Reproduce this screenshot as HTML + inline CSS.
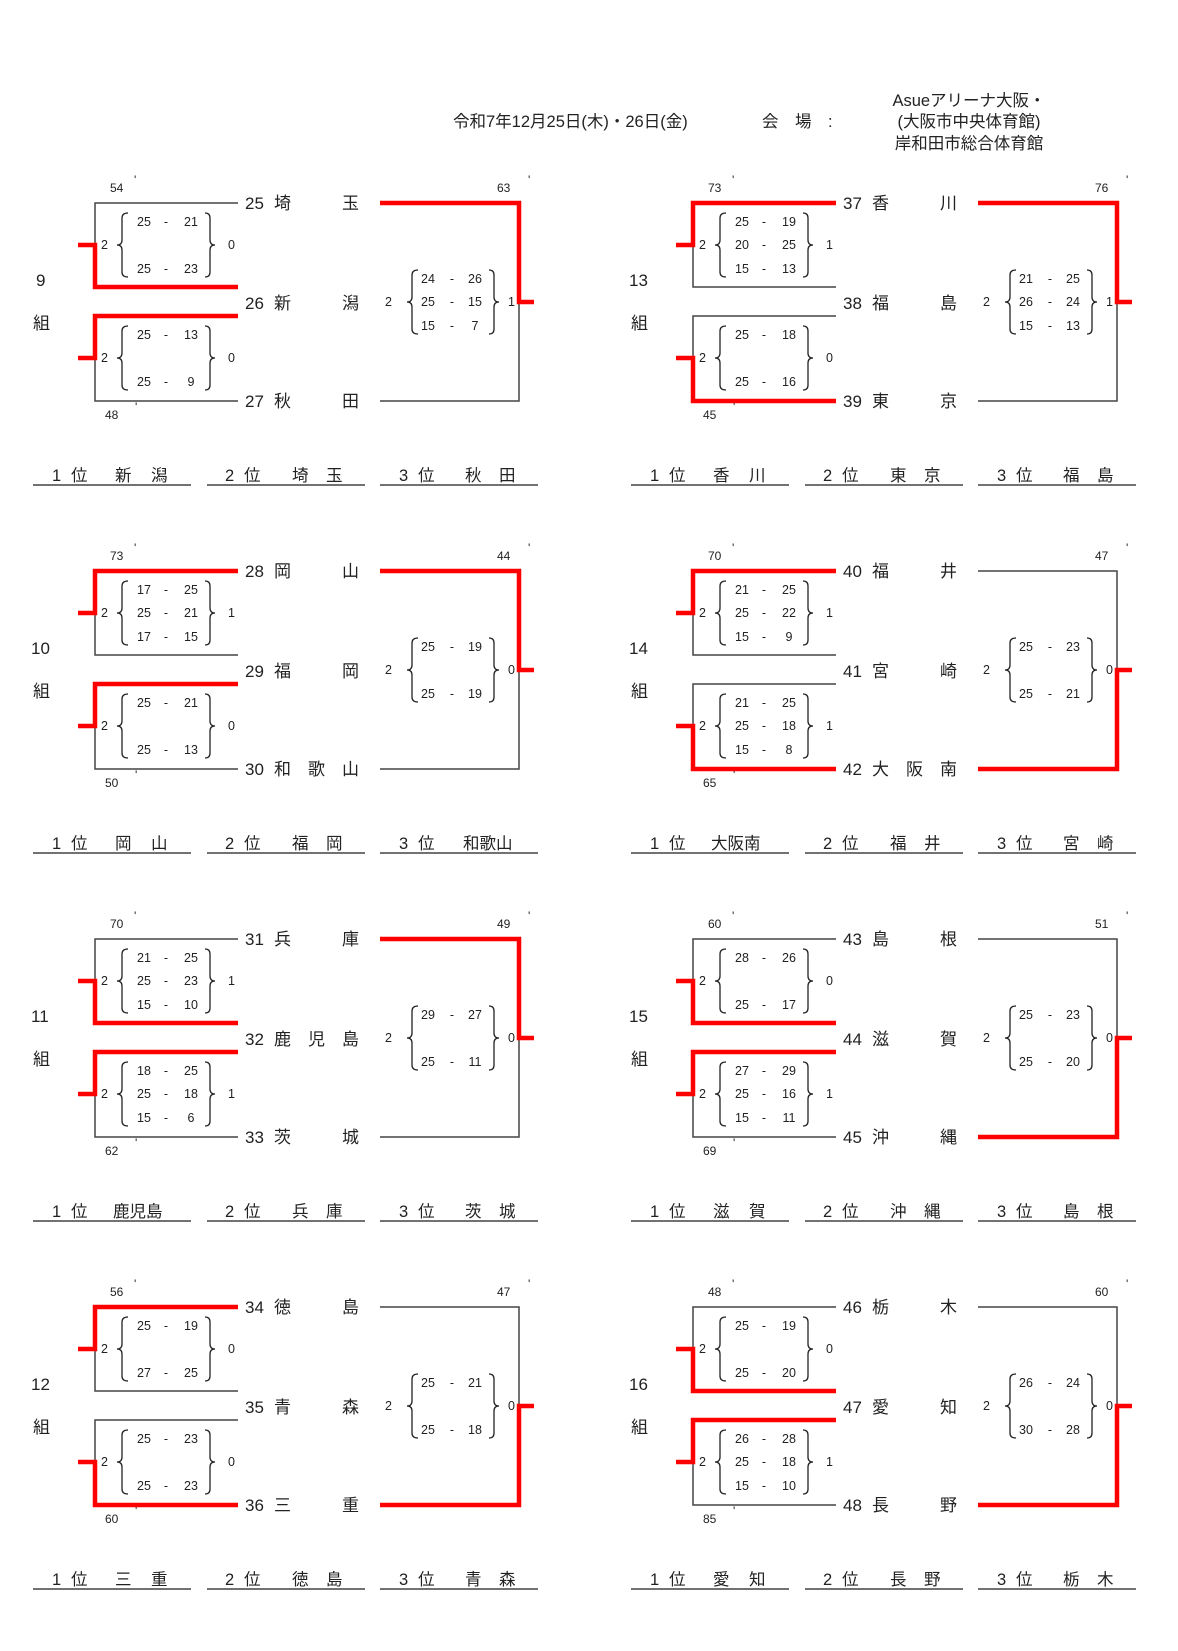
<!DOCTYPE html>
<html><head><meta charset="utf-8"><style>
html,body{margin:0;padding:0;background:#fff}
svg{display:block}
text{font-family:"Liberation Sans","Noto Sans CJK JP",sans-serif;fill:#222}
.k{stroke:#444;stroke-width:1.5;fill:none}
.r{stroke:#f00;stroke-width:4.5;fill:none}
.n{font-size:17px}
.s{font-size:12.5px}
.m{font-size:12px}
.h{font-size:16.5px}
.s2 text{text-anchor:middle}
</style></head><body>
<svg width="1178" height="1651" viewBox="0 0 1178 1651" xmlns="http://www.w3.org/2000/svg">
<defs>
<path id="lb" d="M6,-32 Q0,-32 0,-27 L0,-5 Q0,0 -5,0 Q0,0 0,5 L0,27 Q0,32 6,32" fill="none" stroke="#222" stroke-width="1.3"/>
<path id="rb" d="M-5,-32 Q0,-32 0,-27 L0,-5 Q0,0 5,0 Q0,0 0,5 L0,27 Q0,32 -5,32" fill="none" stroke="#222" stroke-width="1.3"/>
</defs>
<text class="h" x="453" y="127">令和7年12月25日(木)・26日(金)</text>
<text class="h" x="762" y="127">会　場　:</text>
<text class="h" x="969" y="106" text-anchor="middle">Asueアリーナ大阪・</text>
<text class="h" x="969" y="127" text-anchor="middle">(大阪市中央体育館)</text>
<text class="h" x="969" y="149" text-anchor="middle">岸和田市総合体育館</text>

<!-- G9 -->
<g transform="translate(0,0)">
<text class="n" x="36" y="286">9</text><text class="n" x="33" y="329">組</text>
<text class="m" x="110" y="192">54</text><text class="m" x="134" y="184">'</text>
<text class="m" x="105" y="419">48</text><text class="m" x="135" y="411">'</text>
<text class="m" x="497" y="192">63</text><text class="m" x="528" y="184">'</text>
<path class="k" d="M238,203H95V287H238M238,316H95V401H238M380,203H519V401H380"/>
<polyline class="r" points="78,245 95,245 95,287 238,287"/>
<polyline class="r" points="78,358 95,358 95,316 238,316"/>
<polyline class="r" points="380,203 519,203 519,302 534,302"/>
<text class="n" x="245" y="209">25</text><text class="n" x="274" y="209">埼</text><text class="n" x="342" y="209">玉</text>
<text class="n" x="245" y="309">26</text><text class="n" x="274" y="309">新</text><text class="n" x="342" y="309">潟</text>
<text class="n" x="245" y="407">27</text><text class="n" x="274" y="407">秋</text><text class="n" x="342" y="407">田</text>
<use href="#lb" x="122" y="245"/><use href="#rb" x="210" y="245"/><use href="#lb" x="122" y="358"/><use href="#rb" x="210" y="358"/><use href="#lb" x="412" y="302"/><use href="#rb" x="494" y="302"/>
<text class="s" x="101" y="249">2</text><text class="s" x="228" y="249">0</text>
<text class="s" x="101" y="362">2</text><text class="s" x="228" y="362">0</text>
<text class="s" x="385" y="306">2</text><text class="s" x="508" y="306">1</text>
<g class="s s2">
<text x="144" y="226">25</text><text x="166" y="226">-</text><text x="191" y="226">21</text>
<text x="144" y="273">25</text><text x="166" y="273">-</text><text x="191" y="273">23</text>
<text x="144" y="339">25</text><text x="166" y="339">-</text><text x="191" y="339">13</text>
<text x="144" y="386">25</text><text x="166" y="386">-</text><text x="191" y="386">9</text>
<text x="428" y="283">24</text><text x="452" y="283">-</text><text x="475" y="283">26</text>
<text x="428" y="306">25</text><text x="452" y="306">-</text><text x="475" y="306">15</text>
<text x="428" y="330">15</text><text x="452" y="330">-</text><text x="475" y="330">7</text>
</g>
<path class="k" d="M33,485H191M207,485H365M380,485H538"/>
<text class="h" x="52" y="481">1</text><text class="h" x="71" y="481">位</text><text class="h" x="115" y="481">新</text><text class="h" x="151" y="481">潟</text>
<text class="h" x="225" y="481">2</text><text class="h" x="244" y="481">位</text><text class="h" x="292" y="481">埼</text><text class="h" x="326" y="481">玉</text>
<text class="h" x="399" y="481">3</text><text class="h" x="418" y="481">位</text><text class="h" x="465" y="481">秋</text><text class="h" x="499" y="481">田</text>
</g>

<!-- G10 -->
<g transform="translate(0,368)">
<text class="n" x="31" y="286">10</text><text class="n" x="33" y="329">組</text>
<text class="m" x="110" y="192">73</text><text class="m" x="134" y="184">'</text>
<text class="m" x="105" y="419">50</text><text class="m" x="135" y="411">'</text>
<text class="m" x="497" y="192">44</text><text class="m" x="528" y="184">'</text>
<path class="k" d="M238,203H95V287H238M238,316H95V401H238M380,203H519V401H380"/>
<polyline class="r" points="78,245 95,245 95,203 238,203"/>
<polyline class="r" points="78,358 95,358 95,316 238,316"/>
<polyline class="r" points="380,203 519,203 519,302 534,302"/>
<text class="n" x="245" y="209">28</text><text class="n" x="274" y="209">岡</text><text class="n" x="342" y="209">山</text>
<text class="n" x="245" y="309">29</text><text class="n" x="274" y="309">福</text><text class="n" x="342" y="309">岡</text>
<text class="n" x="245" y="407">30</text><text class="n" x="274" y="407">和</text><text class="n" x="308" y="407">歌</text><text class="n" x="342" y="407">山</text>
<use href="#lb" x="122" y="245"/><use href="#rb" x="210" y="245"/><use href="#lb" x="122" y="358"/><use href="#rb" x="210" y="358"/><use href="#lb" x="412" y="302"/><use href="#rb" x="494" y="302"/>
<text class="s" x="101" y="249">2</text><text class="s" x="228" y="249">1</text>
<text class="s" x="101" y="362">2</text><text class="s" x="228" y="362">0</text>
<text class="s" x="385" y="306">2</text><text class="s" x="508" y="306">0</text>
<g class="s s2">
<text x="144" y="226">17</text><text x="166" y="226">-</text><text x="191" y="226">25</text>
<text x="144" y="249">25</text><text x="166" y="249">-</text><text x="191" y="249">21</text>
<text x="144" y="273">17</text><text x="166" y="273">-</text><text x="191" y="273">15</text>
<text x="144" y="339">25</text><text x="166" y="339">-</text><text x="191" y="339">21</text>
<text x="144" y="386">25</text><text x="166" y="386">-</text><text x="191" y="386">13</text>
<text x="428" y="283">25</text><text x="452" y="283">-</text><text x="475" y="283">19</text>
<text x="428" y="330">25</text><text x="452" y="330">-</text><text x="475" y="330">19</text>
</g>
<path class="k" d="M33,485H191M207,485H365M380,485H538"/>
<text class="h" x="52" y="481">1</text><text class="h" x="71" y="481">位</text><text class="h" x="115" y="481">岡</text><text class="h" x="151" y="481">山</text>
<text class="h" x="225" y="481">2</text><text class="h" x="244" y="481">位</text><text class="h" x="292" y="481">福</text><text class="h" x="326" y="481">岡</text>
<text class="h" x="399" y="481">3</text><text class="h" x="418" y="481">位</text><text class="h" x="463" y="481">和歌山</text>
</g>

<!-- G11 -->
<g transform="translate(0,736)">
<text class="n" x="31" y="286">11</text><text class="n" x="33" y="329">組</text>
<text class="m" x="110" y="192">70</text><text class="m" x="134" y="184">'</text>
<text class="m" x="105" y="419">62</text><text class="m" x="135" y="411">'</text>
<text class="m" x="497" y="192">49</text><text class="m" x="528" y="184">'</text>
<path class="k" d="M238,203H95V287H238M238,316H95V401H238M380,203H519V401H380"/>
<polyline class="r" points="78,245 95,245 95,287 238,287"/>
<polyline class="r" points="78,358 95,358 95,316 238,316"/>
<polyline class="r" points="380,203 519,203 519,302 534,302"/>
<text class="n" x="245" y="209">31</text><text class="n" x="274" y="209">兵</text><text class="n" x="342" y="209">庫</text>
<text class="n" x="245" y="309">32</text><text class="n" x="274" y="309">鹿</text><text class="n" x="308" y="309">児</text><text class="n" x="342" y="309">島</text>
<text class="n" x="245" y="407">33</text><text class="n" x="274" y="407">茨</text><text class="n" x="342" y="407">城</text>
<use href="#lb" x="122" y="245"/><use href="#rb" x="210" y="245"/><use href="#lb" x="122" y="358"/><use href="#rb" x="210" y="358"/><use href="#lb" x="412" y="302"/><use href="#rb" x="494" y="302"/>
<text class="s" x="101" y="249">2</text><text class="s" x="228" y="249">1</text>
<text class="s" x="101" y="362">2</text><text class="s" x="228" y="362">1</text>
<text class="s" x="385" y="306">2</text><text class="s" x="508" y="306">0</text>
<g class="s s2">
<text x="144" y="226">21</text><text x="166" y="226">-</text><text x="191" y="226">25</text>
<text x="144" y="249">25</text><text x="166" y="249">-</text><text x="191" y="249">23</text>
<text x="144" y="273">15</text><text x="166" y="273">-</text><text x="191" y="273">10</text>
<text x="144" y="339">18</text><text x="166" y="339">-</text><text x="191" y="339">25</text>
<text x="144" y="362">25</text><text x="166" y="362">-</text><text x="191" y="362">18</text>
<text x="144" y="386">15</text><text x="166" y="386">-</text><text x="191" y="386">6</text>
<text x="428" y="283">29</text><text x="452" y="283">-</text><text x="475" y="283">27</text>
<text x="428" y="330">25</text><text x="452" y="330">-</text><text x="475" y="330">11</text>
</g>
<path class="k" d="M33,485H191M207,485H365M380,485H538"/>
<text class="h" x="52" y="481">1</text><text class="h" x="71" y="481">位</text><text class="h" x="113" y="481">鹿児島</text>
<text class="h" x="225" y="481">2</text><text class="h" x="244" y="481">位</text><text class="h" x="292" y="481">兵</text><text class="h" x="326" y="481">庫</text>
<text class="h" x="399" y="481">3</text><text class="h" x="418" y="481">位</text><text class="h" x="465" y="481">茨</text><text class="h" x="499" y="481">城</text>
</g>

<!-- G12 -->
<g transform="translate(0,1104)">
<text class="n" x="31" y="286">12</text><text class="n" x="33" y="329">組</text>
<text class="m" x="110" y="192">56</text><text class="m" x="134" y="184">'</text>
<text class="m" x="105" y="419">60</text><text class="m" x="135" y="411">'</text>
<text class="m" x="497" y="192">47</text><text class="m" x="528" y="184">'</text>
<path class="k" d="M238,203H95V287H238M238,316H95V401H238M380,203H519V401H380"/>
<polyline class="r" points="78,245 95,245 95,203 238,203"/>
<polyline class="r" points="78,358 95,358 95,401 238,401"/>
<polyline class="r" points="380,401 519,401 519,302 534,302"/>
<text class="n" x="245" y="209">34</text><text class="n" x="274" y="209">徳</text><text class="n" x="342" y="209">島</text>
<text class="n" x="245" y="309">35</text><text class="n" x="274" y="309">青</text><text class="n" x="342" y="309">森</text>
<text class="n" x="245" y="407">36</text><text class="n" x="274" y="407">三</text><text class="n" x="342" y="407">重</text>
<use href="#lb" x="122" y="245"/><use href="#rb" x="210" y="245"/><use href="#lb" x="122" y="358"/><use href="#rb" x="210" y="358"/><use href="#lb" x="412" y="302"/><use href="#rb" x="494" y="302"/>
<text class="s" x="101" y="249">2</text><text class="s" x="228" y="249">0</text>
<text class="s" x="101" y="362">2</text><text class="s" x="228" y="362">0</text>
<text class="s" x="385" y="306">2</text><text class="s" x="508" y="306">0</text>
<g class="s s2">
<text x="144" y="226">25</text><text x="166" y="226">-</text><text x="191" y="226">19</text>
<text x="144" y="273">27</text><text x="166" y="273">-</text><text x="191" y="273">25</text>
<text x="144" y="339">25</text><text x="166" y="339">-</text><text x="191" y="339">23</text>
<text x="144" y="386">25</text><text x="166" y="386">-</text><text x="191" y="386">23</text>
<text x="428" y="283">25</text><text x="452" y="283">-</text><text x="475" y="283">21</text>
<text x="428" y="330">25</text><text x="452" y="330">-</text><text x="475" y="330">18</text>
</g>
<path class="k" d="M33,485H191M207,485H365M380,485H538"/>
<text class="h" x="52" y="481">1</text><text class="h" x="71" y="481">位</text><text class="h" x="115" y="481">三</text><text class="h" x="151" y="481">重</text>
<text class="h" x="225" y="481">2</text><text class="h" x="244" y="481">位</text><text class="h" x="292" y="481">徳</text><text class="h" x="326" y="481">島</text>
<text class="h" x="399" y="481">3</text><text class="h" x="418" y="481">位</text><text class="h" x="465" y="481">青</text><text class="h" x="499" y="481">森</text>
</g>

<!-- G13 -->
<g transform="translate(598,0)">
<text class="n" x="31" y="286">13</text><text class="n" x="33" y="329">組</text>
<text class="m" x="110" y="192">73</text><text class="m" x="134" y="184">'</text>
<text class="m" x="105" y="419">45</text><text class="m" x="135" y="411">'</text>
<text class="m" x="497" y="192">76</text><text class="m" x="528" y="184">'</text>
<path class="k" d="M238,203H95V287H238M238,316H95V401H238M380,203H519V401H380"/>
<polyline class="r" points="78,245 95,245 95,203 238,203"/>
<polyline class="r" points="78,358 95,358 95,401 238,401"/>
<polyline class="r" points="380,203 519,203 519,302 534,302"/>
<text class="n" x="245" y="209">37</text><text class="n" x="274" y="209">香</text><text class="n" x="342" y="209">川</text>
<text class="n" x="245" y="309">38</text><text class="n" x="274" y="309">福</text><text class="n" x="342" y="309">島</text>
<text class="n" x="245" y="407">39</text><text class="n" x="274" y="407">東</text><text class="n" x="342" y="407">京</text>
<use href="#lb" x="122" y="245"/><use href="#rb" x="210" y="245"/><use href="#lb" x="122" y="358"/><use href="#rb" x="210" y="358"/><use href="#lb" x="412" y="302"/><use href="#rb" x="494" y="302"/>
<text class="s" x="101" y="249">2</text><text class="s" x="228" y="249">1</text>
<text class="s" x="101" y="362">2</text><text class="s" x="228" y="362">0</text>
<text class="s" x="385" y="306">2</text><text class="s" x="508" y="306">1</text>
<g class="s s2">
<text x="144" y="226">25</text><text x="166" y="226">-</text><text x="191" y="226">19</text>
<text x="144" y="249">20</text><text x="166" y="249">-</text><text x="191" y="249">25</text>
<text x="144" y="273">15</text><text x="166" y="273">-</text><text x="191" y="273">13</text>
<text x="144" y="339">25</text><text x="166" y="339">-</text><text x="191" y="339">18</text>
<text x="144" y="386">25</text><text x="166" y="386">-</text><text x="191" y="386">16</text>
<text x="428" y="283">21</text><text x="452" y="283">-</text><text x="475" y="283">25</text>
<text x="428" y="306">26</text><text x="452" y="306">-</text><text x="475" y="306">24</text>
<text x="428" y="330">15</text><text x="452" y="330">-</text><text x="475" y="330">13</text>
</g>
<path class="k" d="M33,485H191M207,485H365M380,485H538"/>
<text class="h" x="52" y="481">1</text><text class="h" x="71" y="481">位</text><text class="h" x="115" y="481">香</text><text class="h" x="151" y="481">川</text>
<text class="h" x="225" y="481">2</text><text class="h" x="244" y="481">位</text><text class="h" x="292" y="481">東</text><text class="h" x="326" y="481">京</text>
<text class="h" x="399" y="481">3</text><text class="h" x="418" y="481">位</text><text class="h" x="465" y="481">福</text><text class="h" x="499" y="481">島</text>
</g>

<!-- G14 -->
<g transform="translate(598,368)">
<text class="n" x="31" y="286">14</text><text class="n" x="33" y="329">組</text>
<text class="m" x="110" y="192">70</text><text class="m" x="134" y="184">'</text>
<text class="m" x="105" y="419">65</text><text class="m" x="135" y="411">'</text>
<text class="m" x="497" y="192">47</text><text class="m" x="528" y="184">'</text>
<path class="k" d="M238,203H95V287H238M238,316H95V401H238M380,203H519V401H380"/>
<polyline class="r" points="78,245 95,245 95,203 238,203"/>
<polyline class="r" points="78,358 95,358 95,401 238,401"/>
<polyline class="r" points="380,401 519,401 519,302 534,302"/>
<text class="n" x="245" y="209">40</text><text class="n" x="274" y="209">福</text><text class="n" x="342" y="209">井</text>
<text class="n" x="245" y="309">41</text><text class="n" x="274" y="309">宮</text><text class="n" x="342" y="309">崎</text>
<text class="n" x="245" y="407">42</text><text class="n" x="274" y="407">大</text><text class="n" x="308" y="407">阪</text><text class="n" x="342" y="407">南</text>
<use href="#lb" x="122" y="245"/><use href="#rb" x="210" y="245"/><use href="#lb" x="122" y="358"/><use href="#rb" x="210" y="358"/><use href="#lb" x="412" y="302"/><use href="#rb" x="494" y="302"/>
<text class="s" x="101" y="249">2</text><text class="s" x="228" y="249">1</text>
<text class="s" x="101" y="362">2</text><text class="s" x="228" y="362">1</text>
<text class="s" x="385" y="306">2</text><text class="s" x="508" y="306">0</text>
<g class="s s2">
<text x="144" y="226">21</text><text x="166" y="226">-</text><text x="191" y="226">25</text>
<text x="144" y="249">25</text><text x="166" y="249">-</text><text x="191" y="249">22</text>
<text x="144" y="273">15</text><text x="166" y="273">-</text><text x="191" y="273">9</text>
<text x="144" y="339">21</text><text x="166" y="339">-</text><text x="191" y="339">25</text>
<text x="144" y="362">25</text><text x="166" y="362">-</text><text x="191" y="362">18</text>
<text x="144" y="386">15</text><text x="166" y="386">-</text><text x="191" y="386">8</text>
<text x="428" y="283">25</text><text x="452" y="283">-</text><text x="475" y="283">23</text>
<text x="428" y="330">25</text><text x="452" y="330">-</text><text x="475" y="330">21</text>
</g>
<path class="k" d="M33,485H191M207,485H365M380,485H538"/>
<text class="h" x="52" y="481">1</text><text class="h" x="71" y="481">位</text><text class="h" x="113" y="481">大阪南</text>
<text class="h" x="225" y="481">2</text><text class="h" x="244" y="481">位</text><text class="h" x="292" y="481">福</text><text class="h" x="326" y="481">井</text>
<text class="h" x="399" y="481">3</text><text class="h" x="418" y="481">位</text><text class="h" x="465" y="481">宮</text><text class="h" x="499" y="481">崎</text>
</g>

<!-- G15 -->
<g transform="translate(598,736)">
<text class="n" x="31" y="286">15</text><text class="n" x="33" y="329">組</text>
<text class="m" x="110" y="192">60</text><text class="m" x="134" y="184">'</text>
<text class="m" x="105" y="419">69</text><text class="m" x="135" y="411">'</text>
<text class="m" x="497" y="192">51</text><text class="m" x="528" y="184">'</text>
<path class="k" d="M238,203H95V287H238M238,316H95V401H238M380,203H519V401H380"/>
<polyline class="r" points="78,245 95,245 95,287 238,287"/>
<polyline class="r" points="78,358 95,358 95,316 238,316"/>
<polyline class="r" points="380,401 519,401 519,302 534,302"/>
<text class="n" x="245" y="209">43</text><text class="n" x="274" y="209">島</text><text class="n" x="342" y="209">根</text>
<text class="n" x="245" y="309">44</text><text class="n" x="274" y="309">滋</text><text class="n" x="342" y="309">賀</text>
<text class="n" x="245" y="407">45</text><text class="n" x="274" y="407">沖</text><text class="n" x="342" y="407">縄</text>
<use href="#lb" x="122" y="245"/><use href="#rb" x="210" y="245"/><use href="#lb" x="122" y="358"/><use href="#rb" x="210" y="358"/><use href="#lb" x="412" y="302"/><use href="#rb" x="494" y="302"/>
<text class="s" x="101" y="249">2</text><text class="s" x="228" y="249">0</text>
<text class="s" x="101" y="362">2</text><text class="s" x="228" y="362">1</text>
<text class="s" x="385" y="306">2</text><text class="s" x="508" y="306">0</text>
<g class="s s2">
<text x="144" y="226">28</text><text x="166" y="226">-</text><text x="191" y="226">26</text>
<text x="144" y="273">25</text><text x="166" y="273">-</text><text x="191" y="273">17</text>
<text x="144" y="339">27</text><text x="166" y="339">-</text><text x="191" y="339">29</text>
<text x="144" y="362">25</text><text x="166" y="362">-</text><text x="191" y="362">16</text>
<text x="144" y="386">15</text><text x="166" y="386">-</text><text x="191" y="386">11</text>
<text x="428" y="283">25</text><text x="452" y="283">-</text><text x="475" y="283">23</text>
<text x="428" y="330">25</text><text x="452" y="330">-</text><text x="475" y="330">20</text>
</g>
<path class="k" d="M33,485H191M207,485H365M380,485H538"/>
<text class="h" x="52" y="481">1</text><text class="h" x="71" y="481">位</text><text class="h" x="115" y="481">滋</text><text class="h" x="151" y="481">賀</text>
<text class="h" x="225" y="481">2</text><text class="h" x="244" y="481">位</text><text class="h" x="292" y="481">沖</text><text class="h" x="326" y="481">縄</text>
<text class="h" x="399" y="481">3</text><text class="h" x="418" y="481">位</text><text class="h" x="465" y="481">島</text><text class="h" x="499" y="481">根</text>
</g>

<!-- G16 -->
<g transform="translate(598,1104)">
<text class="n" x="31" y="286">16</text><text class="n" x="33" y="329">組</text>
<text class="m" x="110" y="192">48</text><text class="m" x="134" y="184">'</text>
<text class="m" x="105" y="419">85</text><text class="m" x="135" y="411">'</text>
<text class="m" x="497" y="192">60</text><text class="m" x="528" y="184">'</text>
<path class="k" d="M238,203H95V287H238M238,316H95V401H238M380,203H519V401H380"/>
<polyline class="r" points="78,245 95,245 95,287 238,287"/>
<polyline class="r" points="78,358 95,358 95,316 238,316"/>
<polyline class="r" points="380,401 519,401 519,302 534,302"/>
<text class="n" x="245" y="209">46</text><text class="n" x="274" y="209">栃</text><text class="n" x="342" y="209">木</text>
<text class="n" x="245" y="309">47</text><text class="n" x="274" y="309">愛</text><text class="n" x="342" y="309">知</text>
<text class="n" x="245" y="407">48</text><text class="n" x="274" y="407">長</text><text class="n" x="342" y="407">野</text>
<use href="#lb" x="122" y="245"/><use href="#rb" x="210" y="245"/><use href="#lb" x="122" y="358"/><use href="#rb" x="210" y="358"/><use href="#lb" x="412" y="302"/><use href="#rb" x="494" y="302"/>
<text class="s" x="101" y="249">2</text><text class="s" x="228" y="249">0</text>
<text class="s" x="101" y="362">2</text><text class="s" x="228" y="362">1</text>
<text class="s" x="385" y="306">2</text><text class="s" x="508" y="306">0</text>
<g class="s s2">
<text x="144" y="226">25</text><text x="166" y="226">-</text><text x="191" y="226">19</text>
<text x="144" y="273">25</text><text x="166" y="273">-</text><text x="191" y="273">20</text>
<text x="144" y="339">26</text><text x="166" y="339">-</text><text x="191" y="339">28</text>
<text x="144" y="362">25</text><text x="166" y="362">-</text><text x="191" y="362">18</text>
<text x="144" y="386">15</text><text x="166" y="386">-</text><text x="191" y="386">10</text>
<text x="428" y="283">26</text><text x="452" y="283">-</text><text x="475" y="283">24</text>
<text x="428" y="330">30</text><text x="452" y="330">-</text><text x="475" y="330">28</text>
</g>
<path class="k" d="M33,485H191M207,485H365M380,485H538"/>
<text class="h" x="52" y="481">1</text><text class="h" x="71" y="481">位</text><text class="h" x="115" y="481">愛</text><text class="h" x="151" y="481">知</text>
<text class="h" x="225" y="481">2</text><text class="h" x="244" y="481">位</text><text class="h" x="292" y="481">長</text><text class="h" x="326" y="481">野</text>
<text class="h" x="399" y="481">3</text><text class="h" x="418" y="481">位</text><text class="h" x="465" y="481">栃</text><text class="h" x="499" y="481">木</text>
</g>
</svg>
</body></html>
